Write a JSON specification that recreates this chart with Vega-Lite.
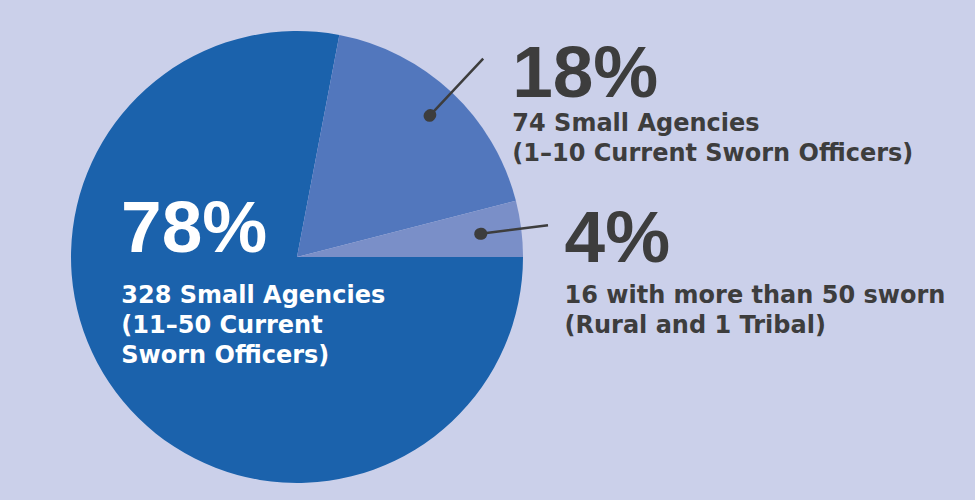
{
  "$schema": "https://vega.github.io/schema/vega-lite/v6.json",
  "width": 594,
  "height": 486,
  "autosize": "none",
  "padding": {"left": 0, "top": 14, "right": 381, "bottom": 0},
  "background": "#cbd0ea",
  "config": {"view": {"stroke": null}},
  "data": {"values": [
    {"label": "78%", "share": 78, "agencies": 328, "desc": "328 Small Agencies\n(11–50 Current\nSworn Officers)"},
    {"label": "18%", "share": 18, "agencies": 74, "desc": "74 Small Agencies\n(1–10 Current Sworn Officers)"},
    {"label": "4%", "share": 4, "agencies": 16, "desc": "16 with more than 50 sworn\n(Rural and 1 Tribal)"}
  ]},
  "encoding": {
    "theta": {"field": "share", "type": "quantitative", "stack": true, "scale": {"range": [1.5707963, 7.8539816]}},
    "order": {"field": "share", "type": "quantitative", "sort": "descending"},
    "detail": {"field": "label", "type": "nominal"}
  },
  "layer": [
    {
      "mark": {"type": "arc", "radius": 226},
      "encoding": {
        "color": {"field": "label", "type": "nominal", "legend": null,
          "scale": {"domain": ["78%", "18%", "4%"], "range": ["#1b62ac", "#5277bd", "#7a8fc8"]}}
      }
    },
    {
      "mark": {"type": "arc", "radius": 272, "radius2": 194, "padAngle": 3.1416, "filled": false, "strokeWidth": 2.5},
      "encoding": {"stroke": {"condition": {"test": "datum.label === '18%'", "value": "#3d3d3d"}, "value": "transparent"}}
    },
    {
      "mark": {"type": "arc", "radius": 194.8, "radius2": 193.6, "padAngle": 3.1416, "filled": false, "strokeWidth": 12, "strokeJoin": "round"},
      "encoding": {"stroke": {"condition": {"test": "datum.label === '18%'", "value": "#3d3d3d"}, "value": "transparent"}}
    },
    {
      "mark": {"type": "arc", "radius": 253, "radius2": 185, "padAngle": 3.1416, "filled": false, "strokeWidth": 2.5},
      "encoding": {"stroke": {"condition": {"test": "datum.label === '4%'", "value": "#3d3d3d"}, "value": "transparent"}}
    },
    {
      "mark": {"type": "arc", "radius": 185.8, "radius2": 184.6, "padAngle": 3.1416, "filled": false, "strokeWidth": 12, "strokeJoin": "round"},
      "encoding": {"stroke": {"condition": {"test": "datum.label === '4%'", "value": "#3d3d3d"}, "value": "transparent"}}
    },
    {
      "mark": {"type": "text", "radius": 130, "dx": -75.8, "dy": -87.9, "align": "left", "baseline": "alphabetic",
        "font": "Liberation Sans", "fontWeight": "bold", "fontSize": 73, "fill": "#ffffff"},
      "encoding": {"text": {"condition": {"test": "datum.label === '78%'", "field": "label"}, "value": ""}}
    },
    {
      "mark": {"type": "text", "radius": 130, "dx": -75.5, "dy": -36.9, "align": "left", "baseline": "alphabetic",
        "font": "DejaVu Sans", "fontWeight": "bold", "fontSize": 24, "lineHeight": 30, "lineBreak": "\n", "fill": "#ffffff"},
      "encoding": {"text": {"condition": {"test": "datum.label === '78%'", "field": "desc"}, "value": ""}}
    },
    {
      "mark": {"type": "text", "radius": 250, "dx": 44, "dy": 22.25, "align": "left", "baseline": "alphabetic",
        "font": "Liberation Sans", "fontWeight": "bold", "fontSize": 73, "fill": "#3d3d3d"},
      "encoding": {"text": {"condition": {"test": "datum.label === '18%'", "field": "label"}, "value": ""}}
    },
    {
      "mark": {"type": "text", "radius": 250, "dx": 44.2, "dy": 55.95, "align": "left", "baseline": "alphabetic",
        "font": "DejaVu Sans", "fontWeight": "bold", "fontSize": 24, "lineHeight": 30, "lineBreak": "\n", "fill": "#3d3d3d"},
      "encoding": {"text": {"condition": {"test": "datum.label === '18%'", "field": "desc"}, "value": ""}}
    },
    {
      "mark": {"type": "text", "radius": 250, "dx": 19.5, "dy": 36.3, "align": "left", "baseline": "alphabetic",
        "font": "Liberation Sans", "fontWeight": "bold", "fontSize": 73, "fill": "#3d3d3d"},
      "encoding": {"text": {"condition": {"test": "datum.label === '4%'", "field": "label"}, "value": ""}}
    },
    {
      "mark": {"type": "text", "radius": 250, "dx": 19.5, "dy": 77.6, "align": "left", "baseline": "alphabetic",
        "font": "DejaVu Sans", "fontWeight": "bold", "fontSize": 24, "lineHeight": 30, "lineBreak": "\n", "fill": "#3d3d3d"},
      "encoding": {"text": {"condition": {"test": "datum.label === '4%'", "field": "desc"}, "value": ""}}
    }
  ]
}
